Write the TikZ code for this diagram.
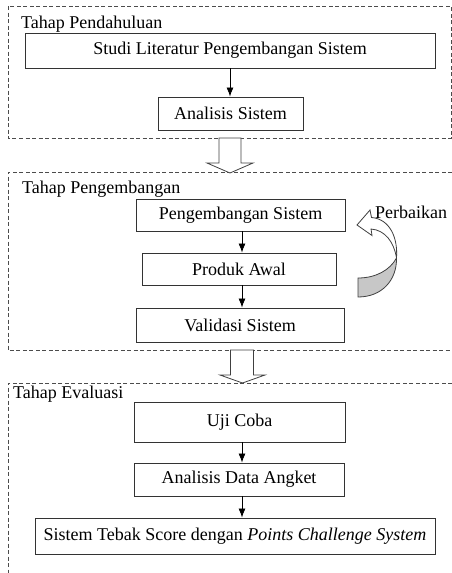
\documentclass[tikz,border=0pt]{standalone}
\usepackage{fontspec}
\setmainfont{Liberation Serif}
\newfontfamily\tnr{Liberation Serif}
\usetikzlibrary{arrows.meta}
\begin{document}
\begin{tikzpicture}[x=1pt,y=-1pt,
  every node/.style={font=\tnr\fontsize{18}{21}\selectfont},
  boxnode/.style={draw=black!80,line width=0.9pt,inner sep=0pt,align=center},
  frame/.style={draw=black!70,line width=0.8pt,dash pattern=on 4pt off 2.5pt},
  flow/.style={draw=black,line width=0.8pt,-{Latex[length=9pt,width=7pt]}},
  blockarrow/.style={draw=black!75,line width=0.8pt,fill=white},
  curvedarrow/.style={draw=black!75,line width=0.8pt}]
\useasboundingbox (0,0) rectangle (452,573);

% frames
\draw[frame] (8,6) rectangle (451,138);
\draw[frame] (452,172) -- (8,172) -- (8,350) -- (452,350);
\draw[frame] (452,383) -- (8,383) -- (8,573);

% frame titles
\node[anchor=west,inner sep=0pt] (t1) at (21,24) {Tahap Pendahuluan};
\node[anchor=west,inner sep=0pt] (t2) at (22,189) {Tahap Pengembangan};
\node[anchor=west,inner sep=0pt] (t3) at (13,394) {Tahap Evaluasi};

% stage 1
\node[boxnode,minimum width=410pt,minimum height=35pt] (studi) at (230,50.5) {Studi Literatur Pengembangan Sistem};
\node[boxnode,minimum width=145pt,minimum height=33pt] (anal) at (230.5,113.5) {Analisis Sistem};
\draw[flow] (studi.south) -- (studi.south |- anal.north);

% stage 2
\coordinate (ax2) at (242,0);
\node[boxnode,minimum width=209pt,minimum height=32pt] (peng) at (240.5,215) {Pengembangan Sistem};
\node[boxnode,minimum width=194pt,minimum height=32pt] (prod) at (239,269) {Produk Awal};
\node[boxnode,minimum width=208pt,minimum height=34pt] (vali) at (240,325) {Validasi Sistem};
\draw[flow] (peng.south -| ax2) -- (prod.north -| ax2);
\draw[flow] (prod.south -| ax2) -- (vali.north -| ax2);

% stage 3
\node[boxnode,minimum width=211pt,minimum height=40pt] (uji) at (239.5,422) {Uji Coba};
\node[boxnode,minimum width=210pt,minimum height=33pt] (angk) at (239,479.5) {Analisis Data Angket};
\node[boxnode,minimum width=400pt,minimum height=36pt] (tebak) at (235,536) {Sistem Tebak Score dengan \textit{Points Challenge System}};
\draw[flow] (uji.south -| ax2) -- (angk.north -| ax2);
\draw[flow] (angk.south -| ax2) -- (tebak.north -| ax2);

% block arrows between stages
\draw[blockarrow] (219,138) -- (241,138) -- (241,163) -- (253,163) -- (230,173) -- (207,163) -- (219,163) -- cycle;
\draw[blockarrow] (230.5,350) -- (253.5,350) -- (253.5,375) -- (265,375) -- (242.5,383) -- (220,375) -- (230.5,375) -- cycle;

% curved arrow "Perbaikan"
\fill[black!22] (396.5,258) .. controls (397,280) and (382,297) .. (358,297) -- (358,278) .. controls (376,278) and (390,270) .. cycle;
\draw[curvedarrow] (396.5,258) .. controls (397,280) and (382,297) .. (358,297) -- (358,278) .. controls (376,278) and (390,270) .. (396.5,258);
\draw[curvedarrow,fill=white] (357,225) -- (370,210) -- (371.5,217.5) .. controls (390,219) and (398,238) .. (396.5,258)
  .. controls (394,242) and (385,230) .. (371,229) -- (372,235.5) -- cycle;
\node[anchor=west,inner sep=0pt] (perb) at (375,212) {Perbaikan};
\end{tikzpicture}
\end{document}
